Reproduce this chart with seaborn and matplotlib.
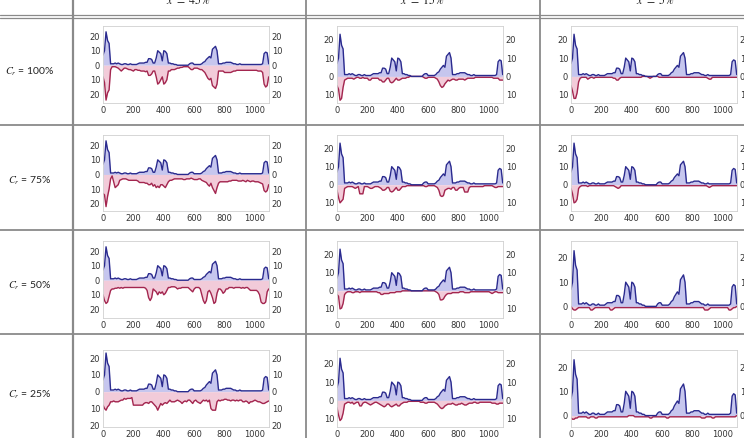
import matplotlib as mtl
mtl.use('Agg')
import numpy as np
import seaborn as sns
import matplotlib.pyplot as plt
from matplotlib.lines import Line2D
from matplotlib.ticker import FuncFormatter

# sample positions, one value every 10 units
time = np.arange(0, 1100, 10)

# upper trace (same in every cell)
upper = [7, 10, 23, 17, 15, 1, 1, 1, 1.5, 1,
         1.5, 1, 0.5, 0.5, 1, 1, 0.5, 0.5, 1, 0.5,
         0.5, 0.5, 0.5, 1, 1.5, 1.5, 1.5, 1.5, 2, 2,
         4.5, 4.5, 4, 1.5, 1.5, 5, 10, 9, 8, 3,
         10, 9.5, 8, 1.5, 1.5, 1, 1, 0.5, 0.5, 0,
         0, 0, 0, 0, 0, 0, 0, 1, 1.5, 1.5,
         0.5, 0.5, 0.5, 0.5, 0.5, 1, 2, 2.5, 4, 5,
         6, 5, 11, 12, 13, 10, 1, 1, 1, 1.5,
         1.5, 2, 2, 2, 2, 1.5, 1, 1, 0.5, 0.5,
         1, 0.5, 0.5, 0.5, 0.5, 0.5, 0.5, 0.5, 0.5, 0.5,
         0.5, 0.5, 0.5, 0.5, 0.5, 1, 8, 9, 8.5, 1]

# lower traces (depth below zero), one per cell
low_100_45 = [8, 12, 24, 19, 17, 3, 1, 1, 1, 1.5,
              2, 3, 4, 3, 2, 2, 2.5, 3, 3, 3.5,
              4, 3, 3, 3.5, 3.5, 4, 4, 4, 4.5, 4,
              7, 7, 6, 4, 4, 8, 13, 12, 10, 8,
              13, 12, 10, 4, 4, 3, 3, 3, 2.5, 2,
              2, 1.5, 1.5, 1, 1, 1, 1, 2, 3, 3,
              2, 2, 2, 2.5, 3, 3, 4, 5, 7, 9,
              10, 9, 14, 15, 16, 13, 4, 4, 4, 4,
              5, 5, 5, 5, 5, 4.5, 4, 4, 3.5, 3.5,
              3.5, 3.5, 3.5, 3.5, 3.5, 3.5, 3.5, 3.5, 3.5, 3.5,
              3.5, 3.5, 4, 4, 4, 5, 13, 15, 14, 8]
low_100_15 = [5, 7, 13, 12, 6, 2, 1.5, 1, 1, 1,
              1, 1.5, 1, 0.5, 0.5, 1, 1, 0.5, 1, 1,
              1, 2, 2, 1, 1, 1, 1, 1, 2, 2,
              3, 3, 2, 1, 1, 3, 3.5, 3, 2, 1,
              2, 2, 1.5, 1, 1, 1, 0.5, 0.5, 0, 0,
              0, 0, 0, 0, 0, 0, 0, 0.5, 1, 1,
              0.5, 0.5, 0.5, 0.5, 0.5, 1, 1.5, 3, 5, 6,
              5.5, 4, 3, 2, 2.5, 2, 1.5, 1.5, 2, 2,
              1.5, 1.5, 1.5, 1.5, 2, 1.5, 1, 1, 1, 1,
              1, 0.5, 0.5, 0.5, 0.5, 0.5, 0.5, 0.5, 0.5, 0.5,
              0.5, 0.5, 0.5, 1, 1, 1, 1, 2, 2, 2]
low_100_5 = [5, 8, 12, 12, 9, 3, 1, 0.5, 0.5, 0.5,
             0.5, 1.5, 1, 0.5, 0.5, 1, 0.5, 0.5, 0.5, 0.5,
             0.5, 0.5, 0.5, 0.5, 0.5, 0.5, 0.5, 0.5, 1, 1,
             2, 2, 1, 0.5, 0.5, 0.5, 0.5, 0.5, 0.5, 0.5,
             0.5, 0.5, 0.5, 0.5, 0.5, 0.5, 0.5, 0, 0, 0,
             0, 0.5, 1, 0.5, 0, 0, 0, 0, 0.5, 0.5,
             0.5, 0.5, 0.5, 0.5, 0.5, 0.5, 0.5, 0.5, 0.5, 0.5,
             0.5, 0.5, 0.5, 0.5, 0.5, 0.5, 0.5, 0.5, 0.5, 0.5,
             0.5, 0.5, 0.5, 0.5, 0.5, 0.5, 0.5, 0.5, 0.5, 0.5,
             1, 1.5, 1.5, 0.5, 0.5, 0.5, 0.5, 0.5, 0.5, 0.5,
             0.5, 0.5, 0.5, 0.5, 0.5, 0.5, 0.5, 0.5, 0.5, 0.5]
low_75_45 = [13, 14, 22, 15, 10, 3, 1, 5, 9, 8,
             7, 4, 3.5, 3, 3, 3, 3.5, 4, 4, 4,
             4, 4, 4, 4.5, 5.5, 5.5, 5.5, 5.5, 6, 6,
             7, 7, 6, 8, 7, 9, 8, 9, 7, 7,
             8, 9, 7, 5, 4, 4, 3.5, 3, 3, 3,
             3, 3, 3, 3.5, 3.5, 3, 3, 3, 2.5, 3,
             3.5, 3.5, 3.5, 3, 3, 4, 4.5, 5, 5.5, 7,
             8, 6, 9, 11, 13, 9, 6, 5, 5, 5,
             5, 5, 5, 4.5, 4.5, 4, 4, 4, 4, 4.5,
             4.5, 4.5, 4, 4.5, 5, 4, 4.5, 5, 4.5, 4.5,
             5, 5, 5, 5.5, 6, 6.5, 11, 12, 11, 7]
low_75_15 = [3, 7, 10, 9, 8, 2, 1.5, 1, 1, 1,
             1, 1.5, 2, 1.5, 1, 5, 5, 5, 1, 1,
             1, 1.5, 2, 2, 1.5, 1, 1, 1, 1.5, 2,
             3, 3, 2.5, 1.5, 1.5, 3.5, 4, 3.5, 2.5, 1.5,
             3, 3, 2, 1, 1, 1, 0.5, 0.5, 0.5, 0.5,
             0.5, 0.5, 0.5, 0.5, 0.5, 0.5, 0.5, 0.5, 1, 1,
             0.5, 0.5, 0.5, 0.5, 0.5, 1, 1.5, 3, 6, 6.5,
             6, 3, 2.5, 2, 2, 2.5, 1.5, 1.5, 3, 3,
             2, 1.5, 1.5, 1.5, 4, 4, 4, 1.5, 1, 1,
             1, 1, 1, 1, 1, 1, 1, 0.5, 0.5, 0.5,
             0.5, 0.5, 0.5, 1, 1.5, 1.5, 1, 1, 1, 1]
low_75_5 = [2, 5, 10, 9.5, 8, 2, 1, 0.5, 0.5, 0.5,
            0.5, 1, 0.5, 0.5, 0.5, 0.5, 0.5, 0.5, 0.5, 0.5,
            0.5, 0.5, 0.5, 0.5, 0.5, 0.5, 0.5, 0.5, 0.5, 1,
            1.5, 2, 1.5, 0.5, 0.5, 0.5, 0.5, 0.5, 0.5, 0.5,
            0.5, 0.5, 0.5, 0.5, 0.5, 0.5, 0.5, 0.5, 0.5, 0.5,
            0.5, 0.5, 0.5, 0.5, 0.5, 0.5, 0.5, 0.5, 0.5, 0.5,
            0.5, 0.5, 0.5, 0.5, 0.5, 0.5, 0.5, 0.5, 0.5, 0.5,
            0.5, 0.5, 0.5, 0.5, 0.5, 0.5, 0.5, 0.5, 0.5, 0.5,
            0.5, 0.5, 0.5, 0.5, 0.5, 0.5, 0.5, 0.5, 0.5, 0.5,
            1, 1.5, 1, 0.5, 0.5, 0.5, 0.5, 0.5, 0.5, 0.5,
            0.5, 0.5, 0.5, 0.5, 0.5, 0.5, 0.5, 0.5, 0.5, 0.5]
low_50_45 = [10, 14, 16, 15, 11, 7, 6, 6, 5.5, 5.5,
             5, 5.5, 5, 5.5, 5, 5, 5, 5, 5, 5,
             5, 5, 5, 5, 5, 5, 5, 5, 5.5, 7,
             12, 14, 12, 6, 7, 8, 10, 8, 9, 8,
             10, 9, 7, 5, 5, 4.5, 4.5, 4.5, 5, 6,
             5.5, 5.5, 5, 5, 5, 5, 5, 6, 7, 8,
             6, 5, 5, 5, 6, 10, 14, 16, 14, 8,
             7, 9, 12, 16, 15, 9, 6, 6, 7, 9,
             8, 6, 6, 5, 5, 5, 5.5, 5, 5, 5,
             5, 5.5, 5, 5.5, 5, 5, 6, 7, 7, 7,
             7, 7, 8, 10, 15, 16, 16, 15, 8, 6]
low_50_15 = [2, 3, 10, 9.5, 7, 2, 1, 0.5, 0.5, 0.5,
             1, 1, 0.5, 0.5, 0.5, 1, 0.5, 0.5, 0.5, 0.5,
             0.5, 0.5, 0.5, 0.5, 0.5, 0.5, 0.5, 1, 1, 2,
             2, 1.5, 1.5, 1.5, 1.5, 1, 1, 1, 1, 0.5,
             0.5, 0.5, 0.5, 0, 0, 0, 0, 0, 0, 0,
             0, 0, 0, 0, 0, 0, 0, 0, 0, 0,
             0, 0, 0, 0, 0, 0.5, 1, 2, 5, 5,
             4.5, 3, 2, 1.5, 1.5, 1.5, 1, 1, 1, 1,
             1, 0.5, 0.5, 0.5, 1, 1, 1, 1, 0.5, 0.5,
             0.5, 0.5, 0.5, 0.5, 0.5, 0.5, 0.5, 0.5, 0.5, 0.5,
             0.5, 1, 1.5, 1, 0.5, 0.5, 1, 1, 1, 1]
low_50_5 = [0, 1, 1.5, 1.5, 1, 0.5, 0.5, 0.5, 0.5, 0.5,
            0.5, 0.5, 0.5, 1.5, 1.5, 1, 0.5, 0.5, 0.5, 0.5,
            0.5, 0.5, 0.5, 0.5, 0.5, 0.5, 1.5, 1.5, 1, 0.5,
            0.5, 0.5, 0.5, 0.5, 0.5, 0.5, 0.5, 0.5, 0.5, 0.5,
            0.5, 0.5, 0.5, 0.5, 0.5, 0.5, 0.5, 0.5, 0.5, 0.5,
            0.5, 0.5, 0.5, 0.5, 0.5, 0.5, 0.5, 0.5, 0.5, 0.5,
            0.5, 0.5, 0.5, 0.5, 0.5, 0.5, 0.5, 0.5, 0.5, 0.5,
            0.5, 0.5, 0.5, 0.5, 0.5, 0.5, 0.5, 0.5, 0.5, 0.5,
            0.5, 0.5, 0.5, 0.5, 0.5, 0.5, 0.5, 0.5, 1.5, 1.5,
            1.5, 1, 0.5, 0.5, 0.5, 0.5, 0.5, 0.5, 0.5, 0.5,
            0.5, 0.5, 0.5, 0.5, 1.5, 1.5, 1, 0.5, 0.5, 0]
low_25_45 = [8, 10, 11, 9, 8, 6, 6, 5.5, 6, 6,
             6, 5.5, 5, 5, 4, 4.5, 4, 4, 4, 3.5,
             8, 8, 8, 8, 8, 8, 8, 7, 6.5, 6.5,
             7, 6, 6, 7, 8, 9, 11, 9, 7, 8,
             7, 6.5, 7, 6, 5, 6, 6, 6, 5.5, 5,
             5.5, 6, 7, 6, 5.5, 6, 5, 5, 6, 7,
             5.5, 5, 6, 6.5, 7, 6, 5, 5.5, 5, 6,
             5, 10, 11, 11, 11, 6, 5, 5.5, 5, 5,
             4.5, 4.5, 5, 5, 5.5, 5, 5, 5.5, 5, 5.5,
             5, 5, 6, 6, 5.5, 6, 7, 6, 6, 5.5,
             5, 5.5, 6, 6, 6.5, 7, 7, 6.5, 6, 5.5]
low_25_15 = [4, 8, 11, 10, 7, 2, 1.5, 1, 1, 1.5,
             1, 2, 1.5, 1, 1, 3, 3, 1.5, 1, 1,
             1.5, 2, 2.5, 2, 1.5, 1, 1, 1.5, 2, 2.5,
             3, 3.5, 3, 2, 2, 3, 3.5, 3, 2.5, 2,
             3, 3, 2, 1.5, 1, 1, 1, 0.5, 0.5, 0.5,
             0.5, 0.5, 0.5, 0.5, 0.5, 1, 1, 1, 1.5, 1.5,
             1, 1, 1, 1, 1, 1.5, 2, 3, 4, 4.5,
             4, 3, 2.5, 2, 2, 2, 1.5, 2, 2.5, 2.5,
             2, 2, 1.5, 2, 2.5, 2.5, 2, 1.5, 1.5, 1.5,
             1, 1, 1.5, 1.5, 1, 1, 1, 1, 1, 1,
             1, 1, 1.5, 1.5, 1.5, 2, 2, 1.5, 1.5, 1.5]
low_25_5 = [1, 1.5, 1.5, 1, 1, 0.5, 0.5, 0.5, 0.5, 0.5,
            0.5, 1, 1, 0.5, 0.5, 0.5, 1, 1, 0.5, 0.5,
            0.5, 0.5, 0.5, 0.5, 0.5, 0.5, 0.5, 0.5, 0.5, 0.5,
            0.5, 0.5, 0.5, 0.5, 0.5, 0.5, 0.5, 0.5, 0, 0,
            0, 0, 0.5, 0.5, 0.5, 0.5, 0.5, 0.5, 0.5, 0.5,
            0.5, 0.5, 1, 1, 0.5, 0.5, 0.5, 0.5, 0.5, 0.5,
            0.5, 0.5, 0.5, 1, 1, 0.5, 0.5, 0.5, 0.5, 0.5,
            0.5, 0.5, 0.5, 0.5, 0.5, 0.5, 0.5, 0.5, 0.5, 0.5,
            0.5, 0.5, 0.5, 0.5, 0.5, 0.5, 1, 1, 1, 0.5,
            0.5, 0.5, 0.5, 1, 1, 0.5, 0.5, 0.5, 0.5, 0.5,
            0.5, 0.5, 0.5, 0.5, 0.5, 0.5, 0.5, 0.5, 0.5, 0]

col_labels = ['45%', '15%', '5%']
row_labels = ['100%', '75%', '50%', '25%']
lower = [[low_100_45, low_100_15, low_100_5],
         [low_75_45, low_75_15, low_75_5],
         [low_50_45, low_50_15, low_50_5],
         [low_25_45, low_25_15, low_25_5]]

sns.set_style('white')
plt.rcParams['mathtext.fontset'] = 'stix'

W, H = 744, 438
fig = plt.figure(figsize=(W / 100, H / 100), dpi=100)

def px_box(l, t, r, b):
    return [l / W, 1 - b / H, (r - l) / W, (b - t) / H]

blue, blue_fill = '#2a2a8e', '#c6c6ee'
red, red_fill = '#a3264f', '#f2cbd9'
grid_c = '#8a8a8a'

col_left = [103, 337, 571]
row_tb = [(26, 103), (135, 211), (241, 318), (350, 427)]
ylims = [[(-26, 27), (-14.5, 27.5), (-14.5, 27.5)],
         [(-25, 27), (-14.5, 27.5), (-14.5, 27.5)],
         [(-26, 27), (-15, 27.5), (-4.8, 27)],
         [(-21, 24.8), (-14.5, 27.5), (-4.7, 27)]]
yticks_col = [[-20, -10, 0, 10, 20], [-10, 0, 10, 20]]

absfmt = FuncFormatter(lambda v, p: '{:g}'.format(abs(v)))

for i in range(4):
    for j in range(3):
        t, b = row_tb[i]
        ax = fig.add_axes(px_box(col_left[j], t, col_left[j] + 166, b))
        low = -np.array(lower[i][j])
        ax.fill_between(time, 0, upper, color=blue_fill, lw=0)
        ax.fill_between(time, 0, low, color=red_fill, lw=0)
        sns.lineplot(x=time, y=low, ax=ax, color=red, linewidth=1.0)
        sns.lineplot(x=time, y=upper, ax=ax, color=blue, linewidth=1.0)
        ax.set_xlim(0, 1092)
        ax.set_ylim(*ylims[i][j])
        if j == 0:
            yt = yticks_col[0]
        elif ylims[i][j][0] < -8:
            yt = yticks_col[1]
        else:
            yt = [0, 10, 20]
        ax.set_xticks([0, 200, 400, 600, 800, 1000])
        ax.set_yticks(yt)
        ax.yaxis.set_major_formatter(absfmt)
        ax.set_xlabel('')
        ax.set_ylabel('')
        for s in ax.spines.values():
            s.set_color('#d0d0d0')
            s.set_linewidth(0.6)
        ax.tick_params(length=0, pad=2, labelsize=6, labelcolor='#333333')
        ax2 = ax.twinx()
        ax2.set_ylim(ax.get_ylim())
        ax2.set_yticks(yt)
        ax2.yaxis.set_major_formatter(absfmt)
        for s in ax2.spines.values():
            s.set_visible(False)
        ax2.tick_params(length=0, pad=2, labelsize=6, labelcolor='#333333')

# table rules
def hline(y, lw=1.3):
    fig.add_artist(Line2D([0, 1], [1 - y / H, 1 - y / H], color=grid_c, lw=lw,
                          transform=fig.transFigure))

def vline(x, lw=1.3):
    fig.add_artist(Line2D([x / W, x / W], [0, 1], color=grid_c, lw=lw,
                          transform=fig.transFigure))

hline(14.5, 0.9)
hline(17.5, 0.9)
for y in [125, 230, 334]:
    hline(y)
vline(73, 1.6)
vline(306)
vline(540)

# column headers (cut at top edge)
for cx, lab in zip([188, 422, 655], col_labels):
    fig.text(cx / W, 1 - 4.5 / H, r'$x\ =\ ' + lab.replace('%', r'\%') + '$',
             ha='center', va='baseline', fontsize=8.5, color='#222222')

# row headers
for cy, lab in zip([72, 181, 286, 395], row_labels):
    fig.text(30 / W, 1 - cy / H, r'$C_r$ = ' + lab, ha='center', va='center',
             fontsize=7.5, family='Lato', color='#222222')

fig.savefig('out.png', dpi=100)
